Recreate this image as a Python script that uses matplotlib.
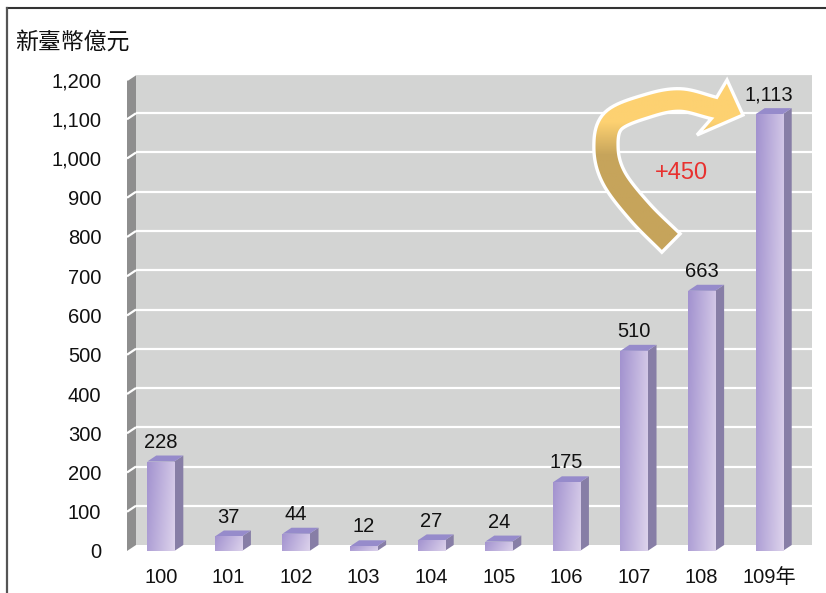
import numpy as np
import matplotlib
matplotlib.use("Agg")
import matplotlib.pyplot as plt
from matplotlib.patches import Polygon
from matplotlib.lines import Line2D

FONT = ["Liberation Sans", "Noto Sans CJK TC", "DejaVu Sans"]
plt.rcParams["font.family"] = FONT

# ---------------- data ----------------
years = ["100", "101", "102", "103", "104", "105", "106", "107", "108", "109年"]
values = [228, 37, 44, 12, 27, 24, 175, 510, 663, 1113]
y_ticks = list(range(0, 1201, 100))
unit_label = "新臺幣億元"
diff_label = "+450"

# ---------------- figure / axes ----------------
W, H = 826, 593
fig = plt.figure(figsize=(W / 100, H / 100), dpi=100)
fig.patch.set_facecolor("white")
ax_l, ax_r, ax_b, ax_t = 127, 803, 551, 80
ax = fig.add_axes([ax_l / W, 1 - ax_b / H, (ax_r - ax_l) / W, (ax_b - ax_t) / H])
XMIN, XMAX, YMAX = -0.5, 9.5, 1200
PXX = (ax_r - ax_l) / (XMAX - XMIN)   # px per category
PXY = (ax_b - ax_t) / YMAX            # px per value unit
DX = 9 / PXX                          # depth offset (data units)
DY = 6 / PXY

for s in ax.spines.values():
    s.set_visible(False)
ax.set_facecolor("none")

def px2data(px, py):
    return XMIN + (px - ax_l) / PXX, (ax_b - py) / PXY

# back wall
ax.add_patch(Polygon([(XMIN + DX, DY), (XMAX + DX, DY), (XMAX + DX, YMAX + DY), (XMIN + DX, YMAX + DY)],
                     closed=True, facecolor="#d3d4d3", edgecolor="none", zorder=0, clip_on=False))
# left wall
ax.add_patch(Polygon([(XMIN, 0), (XMIN + DX, DY), (XMIN + DX, YMAX + DY), (XMIN, YMAX)],
                     closed=True, facecolor="#8e8e8e", edgecolor="none", zorder=0.5, clip_on=False))
# gridlines
for v in y_ticks[1:]:
    ax.plot([XMIN + DX, XMAX + DX], [v + DY, v + DY], color="white", lw=1.6, zorder=1, clip_on=False,
            solid_capstyle="butt")
    ax.plot([XMIN, XMIN + DX], [v, v + DY], color="white", lw=1.6, zorder=1, clip_on=False,
            solid_capstyle="butt")

# ---------------- bars ----------------
x = np.arange(len(years))
bw = 0.4
c_left = np.array(matplotlib.colors.to_rgb("#a292cf"))
c_right = np.array(matplotlib.colors.to_rgb("#ddd3ec"))
n = 64
hx = np.linspace(0, 1, n)[None, :]
vy = np.linspace(0, 1, n)[:, None]
t = np.clip(0.8 * hx + 0.2 * (1 - vy), 0, 1)
grad = c_left[None, None, :] * (1 - t[..., None]) + c_right[None, None, :] * t[..., None]

bars = ax.bar(x, values, width=bw, color="#b9addb", zorder=3)
for xi, v, b in zip(x, values, bars):
    im = ax.imshow(grad, extent=[xi - bw / 2, xi + bw / 2, 0, v], origin="lower",
                   aspect="auto", zorder=3.1, interpolation="bilinear")
    im.set_clip_path(b)
    # side face
    ax.add_patch(Polygon([(xi + bw / 2, 0), (xi + bw / 2 + DX, DY), (xi + bw / 2 + DX, v + DY), (xi + bw / 2, v)],
                         closed=True, facecolor="#877ea6", edgecolor="none", zorder=3, clip_on=False))
    # top face
    ax.add_patch(Polygon([(xi - bw / 2, v), (xi + bw / 2, v), (xi + bw / 2 + DX, v + DY), (xi - bw / 2 + DX, v + DY)],
                         closed=True, facecolor="#968bcb", edgecolor="none", zorder=3, clip_on=False))
    ax.annotate(f"{v:,}", (xi, v), xytext=(0, 10), textcoords="offset points",
                ha="center", va="baseline", fontsize=14.5, color="#111111", zorder=5)

ax.set_xlim(XMIN, XMAX)
ax.set_ylim(0, YMAX)

# ---------------- ticks ----------------
ax.set_yticks(y_ticks)
ax.set_yticklabels([f"{v:,}" for v in y_ticks], fontsize=14.5, color="#111111")
ax.set_xticks(x)
ax.set_xticklabels(years, fontsize=14.5, color="#111111")
for lab in ax.get_xticklabels():
    lab.set_va("baseline")
ax.tick_params(axis="y", length=0, pad=18.5)
ax.tick_params(axis="x", length=0, pad=23)

# ---------------- curved arrow ----------------
cpts = np.array([(671, 243), (640, 212), (614, 178), (606, 148), (613, 121),
                 (647, 106), (680, 100), (714, 108)], float)

def catmull(P, m=12):
    P = np.vstack([P[0] * 2 - P[1], P, P[-1] * 2 - P[-2]])
    out = []
    for i in range(1, len(P) - 2):
        p0, p1, p2, p3 = P[i - 1], P[i], P[i + 1], P[i + 2]
        for tt in np.linspace(0, 1, m, endpoint=False):
            t2, t3 = tt * tt, tt * tt * tt
            out.append(0.5 * ((2 * p1) + (-p0 + p2) * tt + (2 * p0 - 5 * p1 + 4 * p2 - p3) * t2
                              + (-p0 + 3 * p1 - 3 * p2 + p3) * t3))
    out.append(P[-2])
    return np.array(out)

cl = catmull(cpts)
tang = np.gradient(cl, axis=0)
tang /= np.linalg.norm(tang, axis=1)[:, None]
nrm = np.stack([-tang[:, 1], tang[:, 0]], axis=1)
wid = np.linspace(26, 22, len(cl)) / 2
outer = cl - nrm * wid[:, None]
inner = cl + nrm * wid[:, None]
head = np.array([(727, 80), (743, 115), (697, 135)], float)
poly_px = np.vstack([outer, head, inner[::-1]])
poly_data = np.array([px2data(px, py) for px, py in poly_px])

arrow_fill = Polygon(poly_data, closed=True, facecolor="#c9a85c", edgecolor="none", zorder=4)
ax.add_patch(arrow_fill)
ay = np.linspace(0, 1, 200)[:, None]   # 0 = top (py=75), 1 = bottom (py=260)
py_vals = 75 + ay * (260 - 75)
s = np.clip((py_vals - 122) / (155 - 122), 0, 1)
c_top = np.array(matplotlib.colors.to_rgb("#fdd171"))
c_bot = np.array(matplotlib.colors.to_rgb("#c6a45b"))
agrad = (c_top[None, :] * (1 - s) + c_bot[None, :] * s)[:, None, :].repeat(4, axis=1)
x0, y0 = px2data(595, 260)
x1, y1 = px2data(750, 75)
aim = ax.imshow(agrad, extent=[x0, x1, y0, y1], origin="upper", aspect="auto",
                zorder=4.1, interpolation="bilinear")
aim.set_clip_path(arrow_fill)
ax.add_patch(Polygon(poly_data, closed=True, facecolor="none", edgecolor="white", lw=2.4,
                     zorder=4.2, clip_on=False, joinstyle="miter"))

tx, ty = px2data(681, 173)
ax.text(tx, ty, diff_label, color="#e8312f", fontsize=17, ha="center", va="center", zorder=5)

ax.set_xlim(XMIN, XMAX)
ax.set_ylim(0, YMAX)

# ---------------- unit label and frame ----------------
fig.text(15 / W, 1 - 42 / H, unit_label, fontsize=16.5, family=["Noto Sans CJK TC", "DejaVu Sans"],
         ha="left", va="center", color="#111111")
fig.add_artist(Line2D([6.5 / W, 826 / W], [1 - 8 / H, 1 - 8 / H], color="#333333", lw=1.5))
fig.add_artist(Line2D([6.5 / W, 6.5 / W], [1 - 8 / H, 0], color="#555555", lw=1.6))

fig.savefig("out.png", dpi=100)
